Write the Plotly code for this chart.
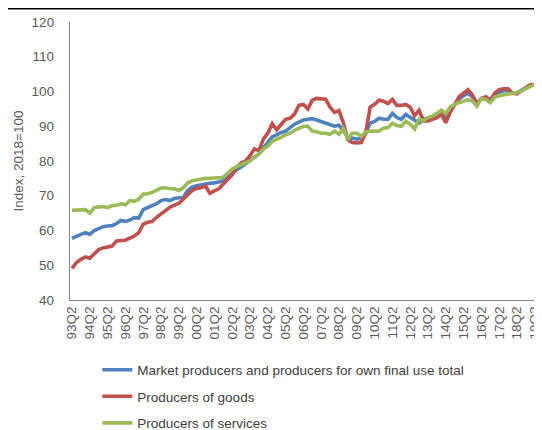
import plotly.graph_objects as go

# Quarter categories 93Q2 .. 19Q2
years = ["93", "94", "95", "96", "97", "98", "99", "00", "01", "02", "03", "04", "05",
         "06", "07", "08", "09", "10", "11", "12", "13", "14", "15", "16", "17", "18", "19"]
quarters = []
for i, yy in enumerate(years):
    for q in ["Q2", "Q3", "Q4"]:
        quarters.append(yy + q)
    if i + 1 < len(years):
        quarters.append(years[i + 1] + "Q1")
quarters = quarters[: quarters.index("19Q2") + 1]

tick_labels = ["93Q2", "94Q2", "95Q2", "96Q2", "97Q2", "98Q2", "99Q2", "00Q2", "01Q2",
               "02Q2", "03Q2", "04Q2", "05Q2", "06Q2", "07Q2", "08Q2", "09Q2", "10Q2",
               "11Q2", "12Q2", "13Q2", "14Q2", "15Q2", "16Q2", "17Q2", "18Q2", "19Q2"]

total = [57.7, 58.4, 58.9, 59.4, 58.9, 60.0, 60.5, 61.1, 61.3, 61.4,
         62.0, 62.9, 62.6, 63.0, 63.7, 63.6, 66.0, 66.6, 67.0, 67.7,
         68.6, 68.9, 68.6, 69.2, 69.4, 69.5, 71.5, 72.5, 72.9, 73.2,
         73.4, 73.6, 73.7, 74.0, 74.3, 75.5, 76.6, 77.5, 78.3, 79.2,
         80.0, 81.2, 82.0, 83.7, 85.5, 87.0, 87.5, 88.2, 88.6, 89.6,
         90.6, 91.2, 91.8, 92.0, 92.2, 91.8, 91.4, 91.0, 90.5, 90.0,
         90.3, 88.8, 86.8, 86.5, 86.3, 86.5, 88.0, 90.9, 91.4, 92.3,
         92.0, 92.0, 93.7, 92.5, 92.0, 93.4, 92.5, 91.5, 90.9, 92.0,
         92.3, 92.3, 92.5, 93.5, 92.5, 94.8, 96.5, 97.8, 98.8, 99.5,
         98.5, 96.5, 98.0, 98.2, 97.3, 99.0, 99.8, 100.2, 100.2, 99.5,
         99.6, 100.3, 101.0, 101.8, 102.0]

goods = [49.1, 50.8, 51.7, 52.4, 52.0, 53.4, 54.5, 55.0, 55.2, 55.5,
         57.0, 57.2, 57.2, 57.8, 58.4, 59.4, 61.8, 62.4, 62.6, 63.8,
         64.8, 65.7, 66.7, 67.3, 67.8, 69.0, 70.4, 71.5, 72.1, 72.3,
         72.8, 70.7, 71.4, 72.0, 73.4, 74.8, 76.0, 78.2, 79.4, 80.0,
         81.5, 83.5, 83.0, 86.3, 88.0, 90.8, 89.0, 90.5, 92.0, 92.3,
         93.5, 96.0, 96.3, 95.0, 97.5, 98.0, 98.0, 97.8, 95.5, 94.0,
         94.5, 91.0, 86.0, 85.3, 85.2, 85.3, 88.0, 95.5, 96.3, 97.5,
         97.2, 96.5, 97.7, 96.0, 96.0, 96.3, 95.5, 93.0, 94.6, 91.5,
         91.5, 92.0, 92.5, 93.5, 91.0, 94.0, 96.5, 98.5, 99.5, 100.5,
         99.0, 96.5, 98.0, 98.5, 97.5, 99.5, 100.5, 100.8, 100.8, 99.5,
         99.3, 100.3, 101.3, 102.0, 101.8]

services = [65.8, 65.8, 65.8, 66.0, 65.0, 66.6, 66.8, 66.9, 66.6, 67.1,
            67.3, 67.7, 67.4, 68.6, 68.4, 69.0, 70.5, 70.6, 71.0, 71.6,
            72.2, 72.3, 72.0, 72.0, 71.5, 72.3, 73.7, 74.3, 74.6, 74.9,
            75.0, 75.0, 75.0, 75.2, 75.3, 76.6, 77.7, 78.4, 79.0, 79.5,
            80.0, 81.2, 82.0, 83.4, 84.3, 85.7, 86.2, 86.8, 87.5, 88.0,
            88.8, 89.4, 90.0, 90.0, 88.6, 88.4, 88.0, 88.0, 87.7, 88.6,
            87.7, 89.3, 86.4, 88.0, 88.0, 87.1, 88.3, 88.6, 88.6, 88.6,
            89.4, 89.6, 90.9, 90.2, 90.0, 91.4, 90.6, 89.2, 92.0, 91.6,
            92.5, 92.9, 93.7, 94.6, 93.7, 95.5, 96.4, 96.8, 97.4, 97.6,
            97.3, 95.8, 98.0, 97.7, 96.8, 98.4, 98.8, 99.0, 99.3, 99.4,
            99.7, 100.2, 100.9, 101.5, 102.0]

series_names = ["Market producers and producers for own final use total",
                "Producers of goods", "Producers of services"]
series_colors = ["#4f81bd", "#c0504d", "#9bbb59"]

font_family = "Liberation Sans, Arial, sans-serif"
text_color = "#595959"

fig = go.Figure()
for name, vals, col in zip(series_names, [total, goods, services], series_colors):
    fig.add_trace(go.Scatter(x=quarters, y=vals, mode="lines", name=name,
                             legendgroup=name,
                             line=dict(color=col, width=3.6)))

# The page body adds an 8px margin, so the figure is 8px smaller on each axis.
fig.update_layout(
    width=534, height=422,
    margin=dict(l=62, r=1, t=14, b=130, autoexpand=False),
    paper_bgcolor="white", plot_bgcolor="white",
    font=dict(family=font_family, size=13.5, color=text_color),
    showlegend=True,
    legend=dict(orientation="v", x=0.058, xanchor="left", y=-0.196, yanchor="top",
                font=dict(size=13.5, color="#404040"), tracegroupgap=6,
                bgcolor="rgba(0,0,0,0)"),
    shapes=[dict(type="line", xref="paper", yref="paper", x0=-0.2, x1=1.05,
                 y0=1.048, y1=1.048, line=dict(color="black", width=1.5))],
)
fig.update_xaxes(type="category", categoryorder="array", categoryarray=quarters,
                 tickmode="array", tickvals=tick_labels, ticktext=tick_labels,
                 tickangle=-90, showgrid=False, showline=True, linecolor="#868686",
                 linewidth=1.3, ticks="", range=[-0.45, 105.4],
                 tickfont=dict(size=13.5, color=text_color))
fig.update_yaxes(range=[40, 120], dtick=10, showgrid=False, showline=True,
                 linecolor="#868686", linewidth=1.3, ticks="outside", ticklen=12,
                 tickcolor="rgba(0,0,0,0)", zeroline=False,
                 tickfont=dict(size=13.5, color=text_color),
                 title=dict(text="Index, 2018=100", standoff=4,
                            font=dict(size=13.5, color=text_color)))

fig.write_html("out.html")
